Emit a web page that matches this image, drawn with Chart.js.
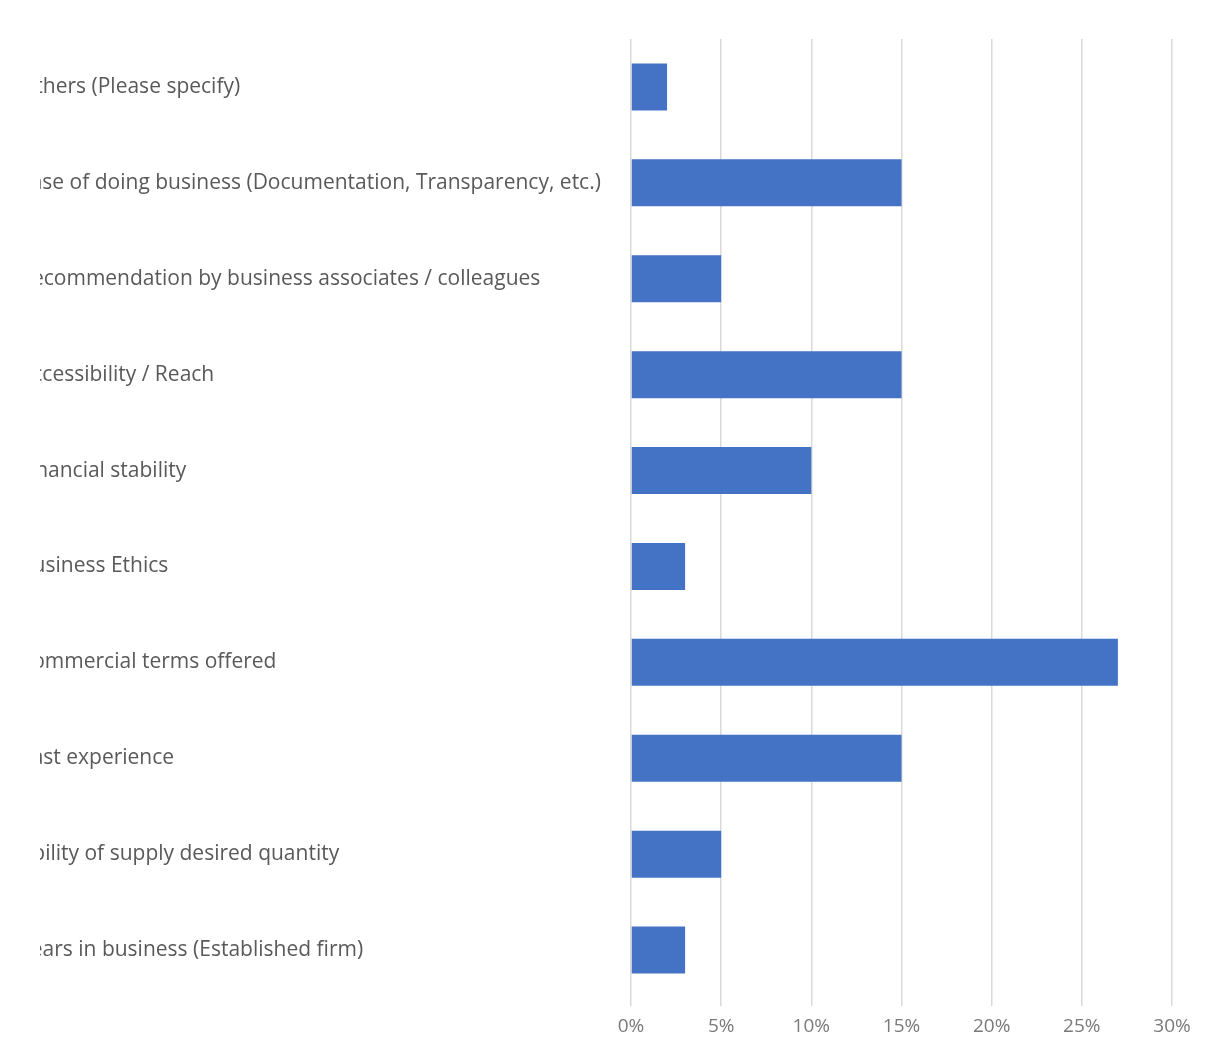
<!DOCTYPE html>
<html>
<head>
<meta charset="utf-8">
<script src="https://cdn.jsdelivr.net/npm/chart.js@4.4.1/dist/chart.umd.min.js"></script>
<style>
  body { margin: 0; background: #fff; }
  #wrap { position: relative; width: 1211px; height: 1043px; }
  #cut { position: absolute; left: 0; top: 0; width: 40px; height: 100%; background: #fff; }
</style>
</head>
<body>
<div id="wrap">
  <canvas id="myChart" width="1211" height="1043"></canvas>
  <div id="cut"></div>
</div>
<script>
// Chart data
const categories = [
  'Others (Please specify)',
  'Ease of doing business (Documentation, Transparency, etc.)',
  'Recommendation by business associates / colleagues',
  'Accessibility / Reach',
  'Financial stability',
  'Business Ethics',
  'Commercial terms offered',
  'Past experience',
  'Ability of supply desired quantity',
  'Years in business (Established firm)'
];
const shares = [2, 15, 5, 15, 10, 3, 27, 15, 5, 3];
const tickValues = [0, 5, 10, 15, 20, 25, 30];

const ctx = document.getElementById('myChart');

Chart.defaults.font.family = '"Open Sans", "Noto Sans", sans-serif';

new Chart(ctx, {
  type: 'bar',
  data: {
    labels: categories,
    datasets: [{
      data: shares,
      backgroundColor: '#4472C4',
      borderWidth: 0,
      barPercentage: 0.5,
      categoryPercentage: 0.98
    }]
  },
  options: {
    indexAxis: 'y',
    responsive: false,
    animation: false,
    layout: { padding: { left: 19, top: 39, right: 39, bottom: 5 } },
    plugins: { legend: { display: false }, tooltip: { enabled: false } },
    scales: {
      x: {
        min: 0,
        max: 30,
        afterBuildTicks: (axis) => { axis.ticks = tickValues.map(v => ({ value: v })); },
        afterFit: (scale) => { scale.height = 40; },
        grid: { color: '#d9d9d9', lineWidth: 1.5, tickLength: 8 },
        border: { display: false },
        ticks: {
          color: '#7a7a7a',
          font: { size: 19 },
          padding: 9,
          callback: (v) => v + '%'
        }
      },
      y: {
        grid: { display: false },
        border: { display: false },
        afterFit: (scale) => { scale.width = 612; },
        ticks: {
          crossAlign: 'far',
          color: '#595959',
          font: { size: 21 },
          autoSkip: false
        }
      }
    }
  }
});
</script>
</body>
</html>
